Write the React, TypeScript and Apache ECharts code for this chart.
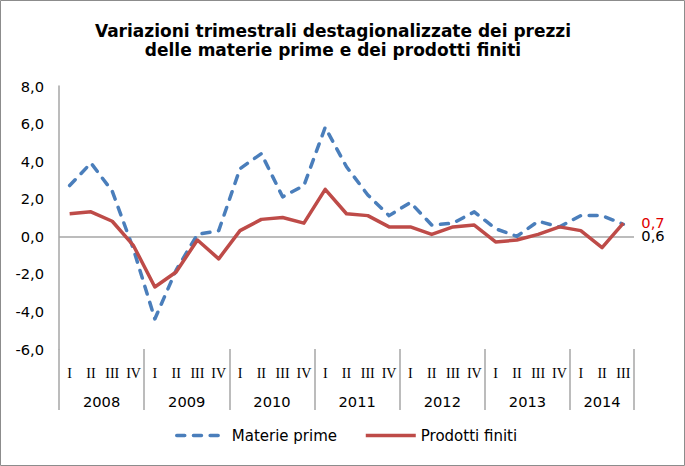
import React, { useEffect, useRef } from 'react';
import * as echarts from 'echarts';

const quarters = [
  'I', 'II', 'III', 'IV', 'I', 'II', 'III', 'IV', 'I', 'II', 'III', 'IV',
  'I', 'II', 'III', 'IV', 'I', 'II', 'III', 'IV', 'I', 'II', 'III', 'IV',
  'I', 'II', 'III',
];
const quarterYears = [
  '2008', '2008', '2008', '2008', '2009', '2009', '2009', '2009',
  '2010', '2010', '2010', '2010', '2011', '2011', '2011', '2011',
  '2012', '2012', '2012', '2012', '2013', '2013', '2013', '2013',
  '2014', '2014', '2014',
];
const years = ['2008', '2009', '2010', '2011', '2012', '2013', '2014'];

const materiePrime = [
  2.7, 3.9, 2.4, -0.7, -4.4, -1.8, 0.1, 0.3, 3.6, 4.4, 2.1, 2.7,
  5.8, 3.7, 2.2, 1.1, 1.8, 0.6, 0.7, 1.3, 0.4, 0.0, 0.8, 0.5,
  1.1, 1.1, 0.64,
];
const prodottiFiniti = [
  1.2, 1.3, 0.8, -0.5, -2.7, -1.9, -0.2, -1.2, 0.3, 0.9, 1.0, 0.7,
  2.5, 1.2, 1.1, 0.5, 0.5, 0.1, 0.5, 0.6, -0.3, -0.2, 0.1, 0.5,
  0.3, -0.6, 0.7,
];

const seriesNames = ['Materie prime', 'Prodotti finiti'];
const titleText =
  'Variazioni trimestrali destagionalizzate dei prezzi\ndelle materie prime e dei prodotti finiti';

const Y_MIN = -6;
const Y_MAX = 8;
const Y_INTERVAL = 2;

const fmt = (v: number) => Number(v).toFixed(1).replace('.', ',');

export default function App() {
  const ref = useRef<HTMLDivElement>(null);

  useEffect(() => {
    if (!ref.current) return;
    const chart = echarts.init(ref.current, undefined, { renderer: 'svg' });

    const yearCenters = years.map((y) => {
      const first = quarterYears.indexOf(y);
      const count = quarterYears.filter((q) => q === y).length;
      return { year: y, pos: first + count / 2 };
    });

    const axisGray = '#a6a6a6';
    const sans = 'DejaVu Sans';

    chart.setOption({
      animation: false,
      backgroundColor: '#ffffff',
      title: {
        text: titleText,
        left: 328,
        top: 16,
        textAlign: 'center',
        textStyle: {
          fontFamily: sans,
          fontWeight: 'bold',
          fontSize: 17,
          lineHeight: 19,
          color: '#000',
        },
      },
      graphic: [
        {
          type: 'rect',
          shape: { x: 0.5, y: 0.5, width: 684, height: 465 },
          style: { fill: 'none', stroke: '#8c8c8c', lineWidth: 1 },
          silent: true,
          z: 100,
        },
      ],
      legend: {
        left: 170,
        top: 423,
        itemWidth: 50,
        itemHeight: 14,
        itemGap: 27,
        data: seriesNames,
        lineStyle: { width: 3.5 },
        itemStyle: { opacity: 0 },
        textStyle: { fontFamily: sans, fontSize: 15, color: '#000' },
      },
      grid: {
        left: 59,
        right: 51,
        top: 86,
        bottom: 117,
        containLabel: false,
        outerBoundsMode: 'none',
      },
      xAxis: [
        {
          type: 'category',
          data: quarters,
          position: 'bottom',
          boundaryGap: true,
          axisLine: { show: false, onZero: false },
          axisTick: {
            show: true,
            length: 61,
            interval: (i: number) => i % 4 === 0,
            lineStyle: { color: axisGray, width: 1.5 },
          },
          axisLabel: {
            interval: 0,
            margin: 17,
            fontFamily: 'Liberation Serif',
            fontSize: 14,
            color: '#000',
          },
          splitLine: { show: false },
        },
        {
          type: 'value',
          position: 'bottom',
          min: 0,
          max: quarters.length,
          interval: 0.5,
          axisLine: { show: false, onZero: false },
          axisTick: { show: false },
          splitLine: { show: false },
          axisLabel: {
            margin: 45,
            fontFamily: sans,
            fontSize: 14.67,
            color: '#000',
            showMinLabel: true,
            showMaxLabel: true,
            formatter: (v: number) => {
              const c = yearCenters.find((yc) => Math.abs(yc.pos - v) < 1e-6);
              return c ? c.year : '';
            },
          },
        },
      ],
      yAxis: {
        type: 'value',
        min: Y_MIN,
        max: Y_MAX,
        interval: Y_INTERVAL,
        axisLine: { show: true, onZero: false, lineStyle: { color: axisGray, width: 1.5 } },
        axisTick: { show: false },
        splitLine: { show: false },
        axisLabel: {
          margin: 15,
          fontFamily: sans,
          fontSize: 14.67,
          color: '#000',
          formatter: (v: number) => fmt(v),
        },
      },
      series: [
        {
          name: seriesNames[0],
          type: 'line',
          xAxisIndex: 0,
          data: materiePrime,
          symbol: 'none',
          smooth: false,
          z: 3,
          lineStyle: {
            color: '#4A7EBB',
            width: 3.5,
            type: [8, 8.7],
            cap: 'round',
            join: 'round',
          },
          itemStyle: { color: '#4A7EBB' },
          endLabel: {
            show: true,
            formatter: (p: any) => fmt(p.value),
            color: '#000',
            fontFamily: sans,
            fontSize: 14.67,
            distance: 18,
            offset: [0, 11],
          },
          markLine: {
            silent: true,
            symbol: ['none', 'none'],
            z: 1,
            label: { show: false },
            lineStyle: { color: axisGray, type: 'solid', width: 1.5 },
            data: [{ yAxis: 0 }],
          },
        },
        {
          name: seriesNames[1],
          type: 'line',
          xAxisIndex: 0,
          data: prodottiFiniti,
          symbol: 'none',
          smooth: false,
          z: 4,
          lineStyle: { color: '#BE4B48', width: 3.5, join: 'round' },
          itemStyle: { color: '#BE4B48' },
          endLabel: {
            show: true,
            formatter: (p: any) => fmt(p.value),
            color: '#E00000',
            fontFamily: sans,
            fontSize: 14.67,
            distance: 18,
            offset: [0, -1],
          },
        },
      ],
    });

    return () => chart.dispose();
  }, []);

  return (
    <div
      ref={ref}
      style={{ position: 'absolute', left: 0, top: 0, width: 685, height: 466 }}
    />
  );
}
